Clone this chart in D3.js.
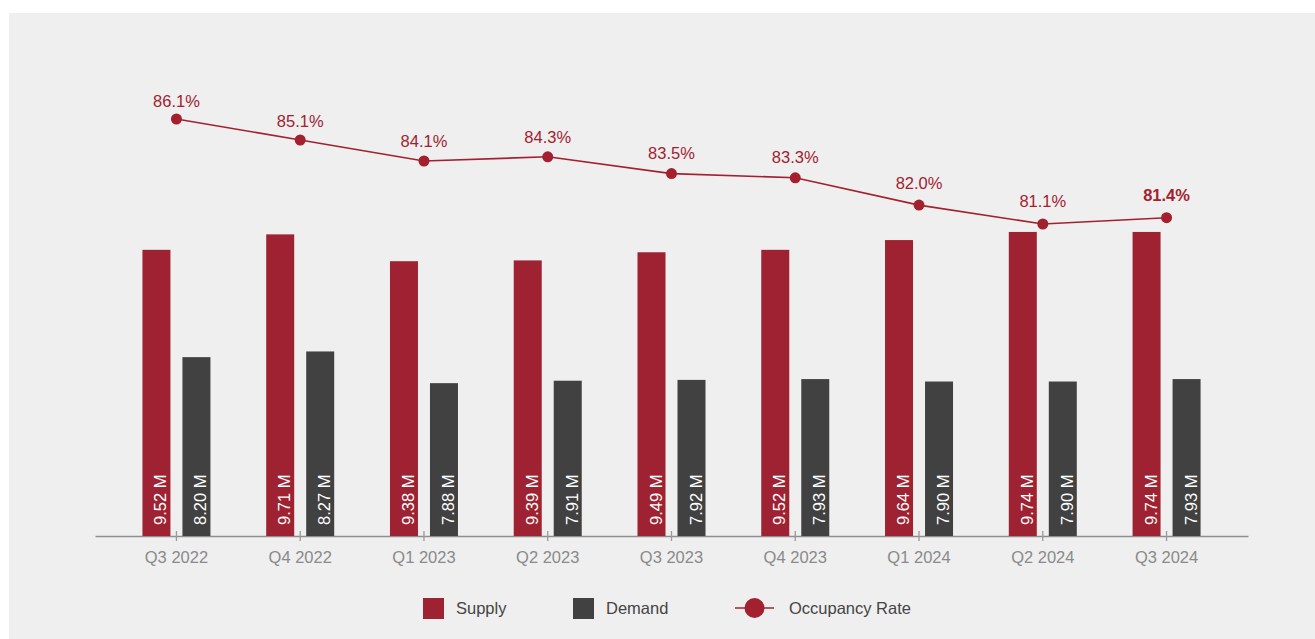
<!DOCTYPE html>
<html>
<head>
<meta charset="utf-8">
<script src="https://cdn.jsdelivr.net/npm/d3@7"></script>
<style>
  html, body { margin: 0; padding: 0; background: #ffffff; }
  svg { display: block; font-family: "Liberation Sans", Arial, sans-serif; }
</style>
</head>
<body>
<svg id="chart" width="1315" height="639"></svg>
<script>
// Quarterly supply / demand (millions of room nights) and occupancy rate
const quarters = ["Q3 2022", "Q4 2022", "Q1 2023", "Q2 2023", "Q3 2023", "Q4 2023", "Q1 2024", "Q2 2024", "Q3 2024"];
const supply = [9.52, 9.71, 9.38, 9.39, 9.49, 9.52, 9.64, 9.74, 9.74];
const demand = [8.20, 8.27, 7.88, 7.91, 7.92, 7.93, 7.90, 7.90, 7.93];
const occupancy = [86.1, 85.1, 84.1, 84.3, 83.5, 83.3, 82.0, 81.1, 81.4];
const legendItems = ["Supply", "Demand", "Occupancy Rate"];

const RED = "#9e2231";
const DARK = "#414142";
const LINE_RED = "#a3212f";
const FONT = 16.5;

const svg = d3.select("#chart");

// panel background
svg.append("rect")
  .attr("x", 9).attr("y", 13)
  .attr("width", 1306).attr("height", 626)
  .attr("fill", "#efefef");

const baseY = 536;

const x = d3.scaleBand()
  .domain(quarters)
  .range([95, 1248])
  .paddingInner(0)
  .paddingOuter(0.158);

const yBar = d3.scaleLinear().domain([6, 10]).range([baseY, baseY - 4 * 81.3]);
const yOcc = d3.scaleLinear().domain([80, 90]).range([247.1, 37.1]);
// occupancy labels sit on a slightly flatter track above the points
const yOccLabel = d3.scaleLinear().domain([80, 90]).range([228.7, 29.7]);

const cx = q => x(q) + x.bandwidth() / 2;
const barW = 28;
const offset = 20;

// x axis
const axis = d3.axisBottom(x).tickSize(0).tickSizeOuter(0).tickPadding(15);
const gAxis = svg.append("g")
  .attr("transform", `translate(0,${baseY})`)
  .call(axis);
gAxis.select(".domain").attr("stroke", "#8e8e8e").attr("stroke-width", 1.3);
gAxis.selectAll(".tick text")
  .attr("fill", "#8a8a8a")
  .attr("font-size", FONT)
  .attr("font-family", "Liberation Sans, Arial, sans-serif");
// cross ticks at each category centre
gAxis.selectAll(".tick").append("line")
  .attr("y1", -5).attr("y2", 5)
  .attr("stroke", "#9a9a9a").attr("stroke-width", 1.3);

// bars
const series = [
  { name: "Supply", values: supply, color: RED, dx: -offset },
  { name: "Demand", values: demand, color: DARK, dx: offset }
];

series.forEach(s => {
  const g = svg.append("g");
  g.selectAll("rect")
    .data(quarters)
    .join("rect")
    .attr("x", (q) => cx(q) + s.dx - barW / 2)
    .attr("y", (q, i) => yBar(s.values[i]))
    .attr("width", barW)
    .attr("height", (q, i) => baseY - yBar(s.values[i]))
    .attr("fill", s.color);
  g.selectAll("text")
    .data(quarters)
    .join("text")
    .attr("transform", (q) => `translate(${cx(q) + s.dx + 10},${baseY - 11}) rotate(-90)`)
    .attr("fill", "#ffffff")
    .attr("font-size", FONT)
    .text((q, i) => s.values[i].toFixed(2) + " M");
});

// occupancy line
const line = d3.line()
  .x((d, i) => cx(quarters[i]))
  .y(d => yOcc(d));

svg.append("path")
  .datum(occupancy)
  .attr("d", line)
  .attr("fill", "none")
  .attr("stroke", LINE_RED)
  .attr("stroke-width", 1.6);

svg.append("g").selectAll("circle")
  .data(occupancy)
  .join("circle")
  .attr("cx", (d, i) => cx(quarters[i]))
  .attr("cy", d => yOcc(d))
  .attr("r", 5.5)
  .attr("fill", LINE_RED);

svg.append("g").selectAll("text")
  .data(occupancy)
  .join("text")
  .attr("x", (d, i) => cx(quarters[i]))
  .attr("y", d => yOccLabel(d))
  .attr("text-anchor", "middle")
  .attr("fill", LINE_RED)
  .attr("font-size", FONT)
  .attr("font-weight", (d, i) => i === occupancy.length - 1 ? "bold" : "normal")
  .text(d => d.toFixed(1) + "%");

// legend
const legend = svg.append("g");
const legY = 608;
legend.append("rect").attr("x", 423).attr("y", 598).attr("width", 21).attr("height", 21).attr("fill", RED);
legend.append("text").attr("x", 456).attr("y", legY + 6).attr("fill", "#444").attr("font-size", FONT).text(legendItems[0]);
legend.append("rect").attr("x", 573).attr("y", 598).attr("width", 21).attr("height", 21).attr("fill", DARK);
legend.append("text").attr("x", 606).attr("y", legY + 6).attr("fill", "#444").attr("font-size", FONT).text(legendItems[1]);
legend.append("line").attr("x1", 735).attr("x2", 774).attr("y1", legY).attr("y2", legY)
  .attr("stroke", LINE_RED).attr("stroke-width", 1.6);
legend.append("circle").attr("cx", 754.5).attr("cy", legY).attr("r", 10).attr("fill", LINE_RED);
legend.append("text").attr("x", 789).attr("y", legY + 6).attr("fill", "#444").attr("font-size", FONT).text(legendItems[2]);
</script>
</body>
</html>
